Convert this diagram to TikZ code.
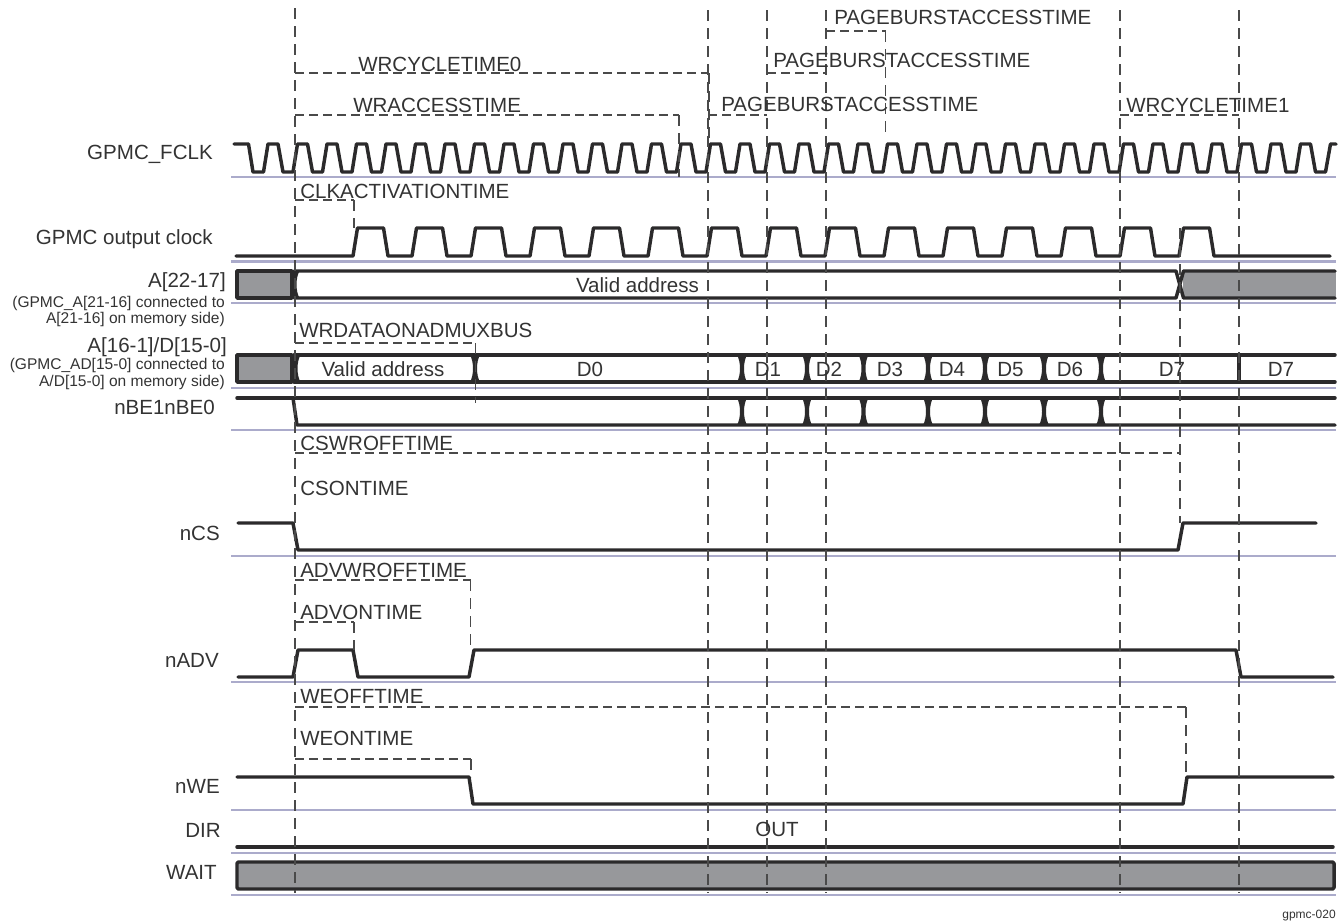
\documentclass[tikz,border=0pt]{standalone}
\usepackage{fontspec}
\setmainfont{Liberation Sans}
\definecolor{sig}{HTML}{2B2A2B}
\definecolor{sep}{HTML}{ABABCB}
\definecolor{busgray}{HTML}{97989B}
\definecolor{txt}{HTML}{333333}
\definecolor{dsh}{HTML}{4A4A4A}
\tikzset{
  sigline/.style={draw=sig,line width=2.6pt,line join=round,line cap=round},
  sepline/.style={draw=sep,line width=1.8pt},
  dashline/.style={draw=dsh,line width=0.8pt,dash pattern=on 6.75pt off 3.75pt},
  vdash/.style={draw=dsh,line width=0.8pt,dash pattern=on 8.5pt off 5pt},
  lab/.style={anchor=base west,inner sep=0pt,text=txt,font=\fontsize{15.4pt}{18pt}\selectfont},
  ctr/.style={anchor=base,inner sep=0pt,text=txt,font=\fontsize{15.4pt}{18pt}\selectfont},
  rlab/.style={anchor=base east,inner sep=0pt,text=txt,font=\fontsize{15.4pt}{18pt}\selectfont},
  slab/.style={anchor=base east,inner sep=0pt,text=txt,font=\fontsize{11.65pt}{14pt}\selectfont},
  graybus/.style={fill=busgray,draw=sig,line width=2.6pt,line join=round},
}
\newcommand{\hglass}[3]{% x, top, bottom
  \fill[sig] (#1-5,#2) .. controls (#1-1,#2+7) and (#1-1,#3-7) .. (#1-5,#3)
    -- (#1+5,#3) .. controls (#1+1,#3-7) and (#1+1,#2+7) .. (#1+5,#2) -- cycle;}
\begin{document}
\begin{tikzpicture}[x=0.75pt,y=-0.75pt]
\useasboundingbox (0,0) rectangle (1342,921);
% separators
\foreach \y in {177,261.5,303,388,430,556,682,810,853,895}
  \draw[sepline] (231,\y) -- (1336,\y);
% FCLK
\draw[sigline] (234,144) -- (248.5,144) -- (253,172) -- (263.5,172)
  \foreach \n in {0,...,35} {
    -- ({263.5+29.5*\n},172) -- ({268+29.5*\n},144) -- ({278+29.5*\n},144) -- ({283+29.5*\n},172)
  } -- (1325.5,172) -- (1330.5,144) -- (1336,144);
% output clock
\draw[sigline] (236,256)
  \foreach \n in {0,...,14} {
    -- ({353+59*\n},256) -- ({357.5+59*\n},228) -- ({383.5+59*\n},228) -- ({388+59*\n},256)
  } -- (1330,256);
% A[22-17]
\draw[graybus] (237,271) rectangle (292,298);
\fill[busgray] (1183,272) rectangle (1336,297);
\draw[sigline] (294,271) -- (1176,271) -- (1183.5,298) -- (1335,298);
\draw[sigline] (294,298) -- (1176,298) -- (1183.5,271) -- (1335,271);
\hglass{294.5}{271}{298}
% AD bus
\draw[graybus] (237,355) rectangle (292,382);
\draw[sigline] (294,355) -- (1335,355);
\draw[sigline] (294,382) -- (1335,382);
\foreach \x in {295.5,475,742,807,863.5,928,985,1044,1101} { \hglass{\x}{355}{382} }
\draw[sig,line width=3pt] (1239,353) -- (1239,384);
% nBE
\draw[sigline] (237,398) -- (1335,398);
\draw[sigline] (293,398) -- (297,425) -- (1335,425);
\foreach \x in {742,807,863.5,928,985,1044,1101} { \hglass{\x}{398}{425} }
% nCS
\draw[sigline] (238,523) -- (293,523) -- (298,550) -- (1178,550) -- (1183,523) -- (1316,523);
% nADV
\draw[sigline] (238,677) -- (293,677) -- (298,650) -- (353,650) -- (358,677) -- (469,677) -- (474,650) -- (1236,650) -- (1241,677) -- (1333,677);
% nWE
\draw[sigline] (237,777) -- (469,777) -- (473,804) -- (1183,804) -- (1187,777) -- (1333,777);
% DIR
\draw[sigline] (237,847) -- (1333,847);
% WAIT
\draw[graybus,rounded corners=1pt] (237,862) rectangle (1334,889);
% dashed verticals
\draw[vdash] (295,8) -- (295,893);
\foreach \x in {708,767,826,1120,1239} { \draw[vdash] (\x,10) -- (\x,893); }
\draw[vdash] (709,73) -- (709,140);
% dashed timing brackets
\draw[dashline] (295,73) -- (708,73);
\draw[dashline] (295,115) -- (679,115);
\draw[vdash] (679,115) -- (679,177);
\draw[dashline] (708,115) -- (767,115);
\draw[dashline] (767,73) -- (826,73);
\draw[dashline] (826,31) -- (885.5,31);
\draw[vdash] (885.5,31) -- (885.5,136);
\draw[dashline] (1120,115) -- (1239,115);
\draw[dashline] (295,200) -- (354,200);
\draw[vdash] (354,200) -- (354,228);
\draw[dashline] (295,343) -- (475.5,343);
\draw[vdash] (475.5,343) -- (475.5,403);
\draw[dashline] (295,453) -- (1180,453);
\draw[vdash] (1180,228) -- (1180,523);
\draw[dashline] (295,580) -- (470.5,580);
\draw[vdash] (470.5,580) -- (470.5,650);
\draw[dashline] (295,622) -- (354,622);
\draw[vdash] (354,622) -- (354,650);
\draw[dashline] (295,707) -- (1186,707);
\draw[vdash] (1186,707) -- (1186,777);
\draw[dashline] (295,759) -- (471,759);
\draw[vdash] (471,759) -- (471,777);
% timing labels
\node[lab] (t1) at (834,24) {PAGEBURSTACCESSTIME};
\node[lab] (t2) at (773,67.5) {PAGEBURSTACCESSTIME};
\node[lab] (t3) at (721,111) {PAGEBURSTACCESSTIME};
\node[lab] (t4) at (358,71) {WRCYCLETIME0};
\node[lab] (t5) at (353,112) {WRACCESSTIME};
\node[lab] (t6) at (1126,112) {WRCYCLETIME1};
\node[lab] (t7) at (300,198) {CLKACTIVATIONTIME};
\node[lab] (t8) at (299,337.5) {WRDATAONADMUXBUS};
\node[lab] (t9) at (300,450) {CSWROFFTIME};
\node[lab] (t10) at (300,495.5) {CSONTIME};
\node[lab] (t11) at (300,577) {ADVWROFFTIME};
\node[lab] (t12) at (300,619) {ADVONTIME};
\node[lab] (t13) at (300,703) {WEOFFTIME};
\node[lab] (t14) at (300,745) {WEONTIME};
% bus values
\node[ctr] (v1) at (637.5,292) {Valid address};
\node[ctr] (v2) at (383,376.5) {Valid address};
\node[ctr] (d0) at (590,376.5) {D0};
\node[ctr] (d1) at (768,376.5) {D1};
\node[ctr] (d2) at (829,376.5) {D2};
\node[ctr] (d3) at (890,376.5) {D3};
\node[ctr] (d4) at (952,376.5) {D4};
\node[ctr] (d5) at (1010.5,376.5) {D5};
\node[ctr] (d6) at (1070,376.5) {D6};
\node[ctr] (d7a) at (1172,376.5) {D7};
\node[ctr] (d7b) at (1281,376.5) {D7};
\node[ctr] (out) at (777,836.5) {OUT};
% signal names
\node[rlab] (s1) at (213,159) {GPMC\_FCLK};
\node[rlab] (s2) at (213,244) {GPMC output clock};
\node[rlab] (s3) at (226,287) {A[22-17]};
\node[slab] (s3a) at (225,307) {(GPMC\_A[21-16] connected to};
\node[slab] (s3b) at (225,323) {A[21-16] on memory side)};
\node[rlab] (s4) at (227,352) {A[16-1]/D[15-0]};
\node[slab] (s4a) at (225,369) {(GPMC\_AD[15-0] connected to};
\node[slab] (s4b) at (225,386) {A/D[15-0] on memory side)};
\node[rlab] (s5) at (215,414) {nBE1nBE0};
\node[rlab] (s6) at (220,540) {nCS};
\node[rlab] (s7) at (219,667) {nADV};
\node[rlab] (s8) at (220,793) {nWE};
\node[rlab] (s9) at (221,837) {DIR};
\node[rlab] (s10) at (217,879) {WAIT};
\node[anchor=base east,inner sep=0pt,text=txt,font=\fontsize{9pt}{11pt}\selectfont] (ref) at (1336,918) {gpmc-020};
\end{tikzpicture}
\end{document}
